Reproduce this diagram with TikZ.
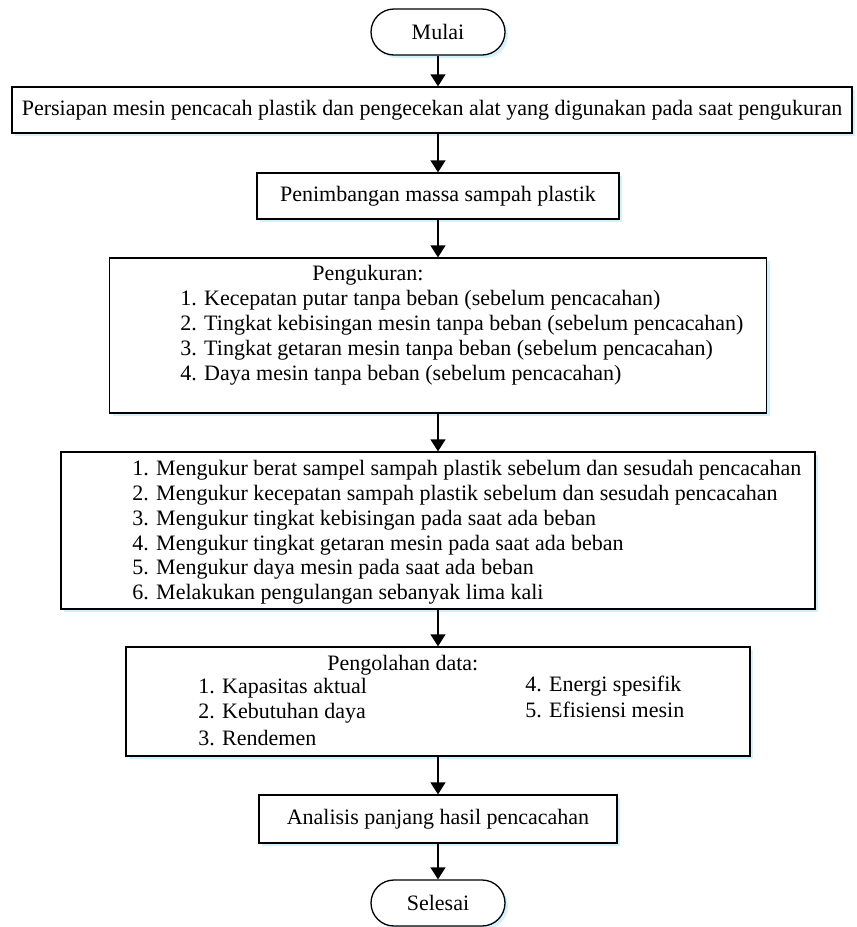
\documentclass[tikz,border=0pt]{standalone}
\usepackage{fontspec}
\setmainfont{Liberation Serif}
\usetikzlibrary{arrows.meta,shadows}
\begin{document}
\begin{tikzpicture}[x=0.5pt,y=-0.5pt,font=\fontsize{11}{12.5}\selectfont,
  kotak/.style={draw,line width=.65pt,inner sep=0pt,fill=white,
    drop shadow={shadow xshift=1.5pt,shadow yshift=-1.5pt,fill=blue!30!cyan!22,opacity=.8}},
  ujung/.style={kotak,rounded corners=11.5pt,minimum width=67pt,minimum height=23pt},
  isi/.style={anchor=west,inner sep=0pt},
  panah/.style={-{Triangle[length=6pt,width=7.5pt]},line width=.65pt}]
\useasboundingbox (0,0) rectangle (857,927);
% terminal awal dan proses
\node[ujung] (mulai) at (438,32) {Mulai};
\node[kotak,minimum width=420pt,minimum height=23pt] (siap) at (432,110)
  {Persiapan mesin pencacah plastik dan pengecekan alat yang digunakan pada saat pengukuran};
\node[kotak,minimum width=181pt,minimum height=23pt] (timbang) at (438,196) {Penimbangan massa sampah plastik};
% pengukuran tanpa beban
\node[kotak,minimum width=328.5pt,minimum height=77.5pt] (ukur) at (438,335.5) {};
\path (312,275) node[isi] (ukur0) {Pengukuran:};
\path (180,300) node[isi] (ukur1) {1. Kecepatan putar tanpa beban (sebelum pencacahan)};
\path (180,325) node[isi] (ukur2) {2. Tingkat kebisingan mesin tanpa beban (sebelum pencacahan)};
\path (180,350) node[isi] (ukur3) {3. Tingkat getaran mesin tanpa beban (sebelum pencacahan)};
\path (180,375) node[isi] (ukur4) {4. Daya mesin tanpa beban (sebelum pencacahan)};
% pengukuran dengan beban
\node[kotak,minimum width=377pt,minimum height=78.5pt] (beban) at (438,530.5) {};
\path (132,470) node[isi] (beban1) {1. Mengukur berat sampel sampah plastik sebelum dan sesudah pencacahan};
\path (132,495) node[isi] (beban2) {2. Mengukur kecepatan sampah plastik sebelum dan sesudah pencacahan};
\path (132,520) node[isi] (beban3) {3. Mengukur tingkat kebisingan pada saat ada beban};
\path (132,545) node[isi] (beban4) {4. Mengukur tingkat getaran mesin pada saat ada beban};
\path (132,569) node[isi] (beban5) {5. Mengukur daya mesin pada saat ada beban};
\path (132,594) node[isi] (beban6) {6. Melakukan pengulangan sebanyak lima kali};
% pengolahan data
\node[kotak,minimum width=312pt,minimum height=54.5pt] (olah) at (438,701.5) {};
\path (327,665) node[isi] (olah0) {Pengolahan data:};
\path (198,688) node[isi] (olah1) {1. Kapasitas aktual};
\path (198,713) node[isi] (olah2) {2. Kebutuhan daya};
\path (198,738) node[isi] (olah3) {3. Rendemen};
\path (525,686) node[isi] (olah4) {4. Energi spesifik};
\path (525,710) node[isi] (olah5) {5. Efisiensi mesin};
% analisis dan terminal akhir
\node[kotak,minimum width=179pt,minimum height=24pt] (analisis) at (438,819) {Analisis panjang hasil pencacahan};
\node[ujung] (selesai) at (438,903) {Selesai};
% panah
\draw[panah] (mulai.south) -- (mulai.south |- siap.north);
\draw[panah] (siap.south -| timbang.north) -- (timbang.north);
\draw[panah] (timbang.south) -- (ukur.north);
\draw[panah] (ukur.south) -- (beban.north);
\draw[panah] (beban.south) -- (olah.north);
\draw[panah] (olah.south) -- (analisis.north);
\draw[panah] (analisis.south) -- (selesai.north);
\end{tikzpicture}
\end{document}
